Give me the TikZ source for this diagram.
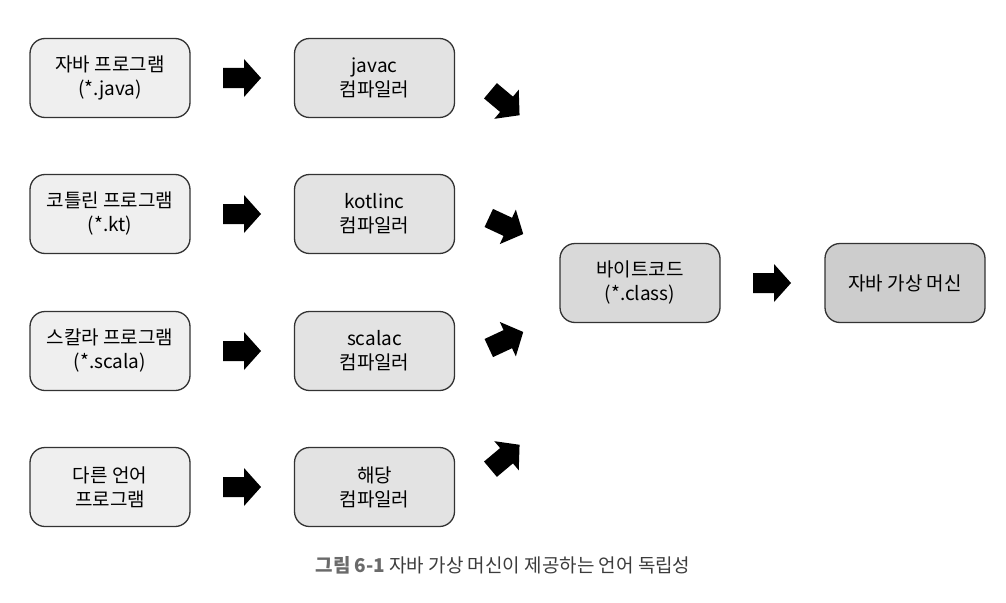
\documentclass[tikz,border=0pt]{standalone}
\usepackage{fontspec}
\setmainfont{Noto Sans CJK KR}
\definecolor{srcfill}{HTML}{EFEFEF}
\definecolor{compfill}{HTML}{E3E3E3}
\definecolor{bcfill}{HTML}{D9D9D9}
\definecolor{jvmfill}{HTML}{CDCDCD}
\definecolor{boxline}{HTML}{333333}
\definecolor{capbold}{HTML}{6A6A6A}
\definecolor{captext}{HTML}{3C3C3C}
\tikzset{
  box/.style={draw=boxline, line width=1.3pt, rounded corners=15pt, minimum width=160pt, minimum height=79pt, align=center, font=\fontsize{19pt}{24pt}\selectfont, inner sep=0pt},
  srcbox/.style={box, fill=srcfill},
  compbox/.style={box, fill=compfill},
  bcbox/.style={box, fill=bcfill},
  jvmbox/.style={box, fill=jvmfill},
  blockarr/.pic={\fill[black] (-19,-10) -- (2,-10) -- (2,-19) -- (19,0) -- (2,19) -- (2,10) -- (-19,10) -- cycle;}
}
\begin{document}
\begin{tikzpicture}[x=1pt,y=-1pt]
\useasboundingbox (0,0) rectangle (1006,602);
\node[srcbox] (java) at (110,78) {자바 프로그램\\(*.java)};
\node[srcbox] (kt) at (110,214) {코틀린 프로그램\\(*.kt)};
\node[srcbox] (scala) at (110,351) {스칼라 프로그램\\(*.scala)};
\node[srcbox] (other) at (110,487) {다른 언어\\프로그램};
\node[compbox] (javac) at (374.5,78) {javac\\컴파일러};
\node[compbox] (ktc) at (374.5,214) {kotlinc\\컴파일러};
\node[compbox] (scalac) at (374.5,351) {scalac\\컴파일러};
\node[compbox] (otherc) at (374.5,487) {해당\\컴파일러};
\node[bcbox] (bc) at (640,283) {바이트코드\\(*.class)};
\node[jvmbox] (jvm) at (905,283) {자바 가상 머신};
\pic at (242,78) {blockarr};
\pic at (242,214) {blockarr};
\pic at (242,351) {blockarr};
\pic at (242,487) {blockarr};
\pic[rotate=-40] at (505,103) {blockarr};
\pic[rotate=-25] at (506,226) {blockarr};
\pic[rotate=25] at (506,340) {blockarr};
\pic[rotate=40] at (505,457) {blockarr};
\pic at (772,283) {blockarr};
\node[font=\fontsize{19pt}{23pt}\selectfont, text=captext] (cap) at (503,565) {\textcolor{capbold}{\textbf{그림 6-1}} 자바 가상 머신이 제공하는 언어 독립성};
\end{tikzpicture}
\end{document}
